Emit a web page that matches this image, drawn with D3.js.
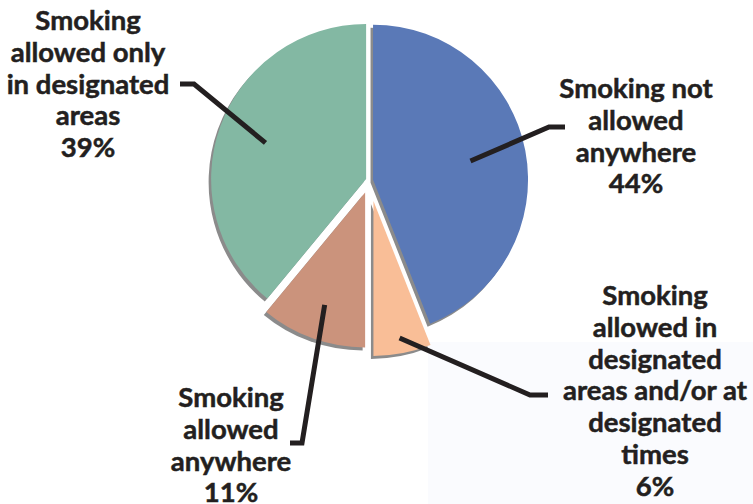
<!DOCTYPE html>
<html>
<head>
<meta charset="utf-8">
<script src="https://cdn.jsdelivr.net/npm/d3@7"></script>
<style>
  body { margin: 0; background: #fff; }
  svg { display: block; }
  .label { font-family: Lato, "Open Sans", sans-serif; font-weight: 700; font-size: 27.5px; fill: #231f20; stroke: #231f20; stroke-width: 0.5px; }
</style>
</head>
<body>
<div id="chart"></div>
<script>
// data, clockwise from 12 o'clock
const categories = [
    "Smoking not allowed anywhere",
    "Smoking allowed in designated areas and/or at designated times",
    "Smoking allowed anywhere",
    "Smoking allowed only in designated areas"
];
const values = [44, 6, 11, 39];
const labelLines = [
    ["Smoking not", "allowed", "anywhere", "44%"],
    ["Smoking", "allowed in", "designated", "areas and/or at", "designated", "times", "6%"],
    ["Smoking", "allowed", "anywhere", "11%"],
    ["Smoking", "allowed only", "in designated", "areas", "39%"]
];
const colors = ["#5a79b7", "#f9be97", "#cb937c", "#83b8a3"];

const width = 753, height = 504;
const cx = 369.5, cy = 180.3, radius = 155;
const explode = [3.6, 21, 13, 3.6];
const shadow = {dx: -2.5, dy: 3, color: "#8b8b8b"};

// label layout: text centre x, first baseline, leader start (fraction of radius), elbow and end
const labelLayout = [
    {x: 636, y: 98, lead: 0.64, elbow: [549, 127], end: [565, 127]},
    {x: 655, y: 305, lead: 0.9, elbow: [530, 395], end: [548, 395]},
    {x: 231, y: 407, lead: 0.77, elbow: [302, 443], end: [290, 443]},
    {x: 88, y: 30, lead: 0.69, elbow: [194, 84], end: [180, 84]}
];
const lineHeight = 31.8;

const svg = d3.select("#chart").append("svg")
    .attr("width", width)
    .attr("height", height);

// faint panel behind the lower right label
svg.append("rect")
    .attr("x", 428).attr("y", 342)
    .attr("width", width - 428).attr("height", height - 342)
    .attr("fill", "#fafbfe");

const pie = d3.pie().sort(null).value(d => d);
const arcs = pie(values);
const arc = d3.arc().innerRadius(0).outerRadius(radius);

function offset(d, i) {
    const mid = (d.startAngle + d.endAngle) / 2;
    return [cx + explode[i] * Math.sin(mid), cy - explode[i] * Math.cos(mid)];
}

const g = svg.append("g");

g.selectAll("path.shadow")
    .data(arcs)
    .join("path")
    .attr("class", "shadow")
    .attr("d", arc)
    .attr("fill", shadow.color)
    .attr("transform", (d, i) => {
        const o = offset(d, i);
        return `translate(${o[0] + shadow.dx}, ${o[1] + shadow.dy})`;
    });

g.selectAll("path.slice")
    .data(arcs)
    .join("path")
    .attr("class", "slice")
    .attr("d", arc)
    .attr("fill", (d, i) => colors[i])
    .attr("transform", (d, i) => {
        const o = offset(d, i);
        return `translate(${o[0]}, ${o[1]})`;
    });

// leader lines
const line = d3.line();
g.selectAll("path.leader")
    .data(arcs)
    .join("path")
    .attr("class", "leader")
    .attr("d", (d, i) => {
        const o = offset(d, i);
        const mid = (d.startAngle + d.endAngle) / 2;
        const r = radius * labelLayout[i].lead;
        const start = [o[0] + r * Math.sin(mid), o[1] - r * Math.cos(mid)];
        return line([start, labelLayout[i].elbow, labelLayout[i].end]);
    })
    .attr("fill", "none")
    .attr("stroke", "#231f20")
    .attr("stroke-width", 5)
    .attr("stroke-linejoin", "miter");

// labels
const labels = svg.selectAll("text.label")
    .data(labelLines)
    .join("text")
    .attr("class", "label")
    .attr("text-anchor", "middle")
    .attr("x", (d, i) => labelLayout[i].x)
    .attr("y", (d, i) => labelLayout[i].y);

labels.selectAll("tspan")
    .data((d, i) => d.map(t => ({t, i})))
    .join("tspan")
    .attr("x", d => labelLayout[d.i].x)
    .attr("dy", (d, j) => j === 0 ? 0 : lineHeight)
    .text(d => d.t);
</script>
</body>
</html>
